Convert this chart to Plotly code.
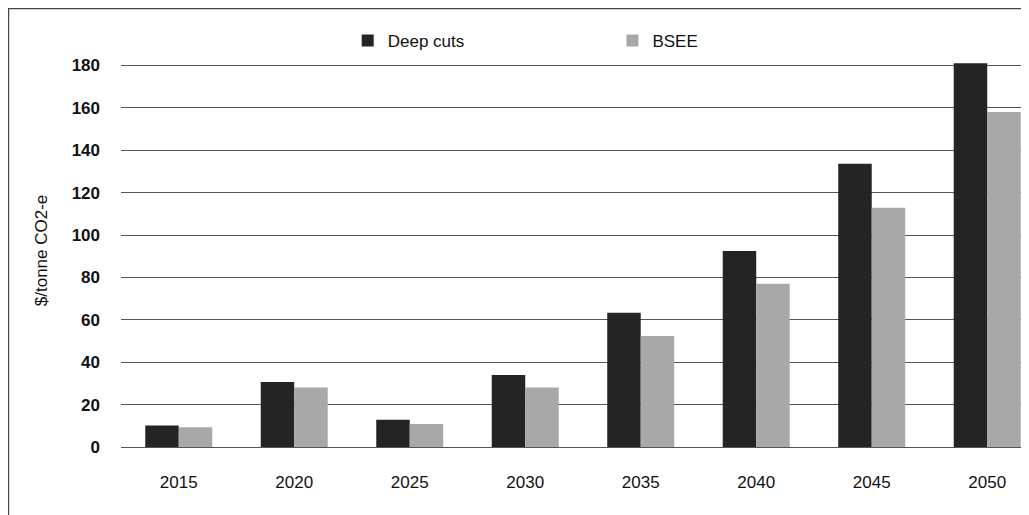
import plotly.graph_objects as go

years = ["2015", "2020", "2025", "2030", "2035", "2040", "2045", "2050"]
deep_cuts = [10.1, 30.7, 12.9, 34.0, 63.3, 92.5, 133.6, 181.0]
bsee = [9.3, 28.1, 10.9, 28.1, 52.3, 77.0, 112.8, 158.0]
y_ticks = [0, 20, 40, 60, 80, 100, 120, 140, 160, 180]
y_title = "$/tonne CO2-e"

FONT = "Liberation Sans, Arial, sans-serif"

fig = go.Figure()
fig.add_trace(go.Bar(x=years, y=deep_cuts, name="Deep cuts",
                     marker=dict(color="#242424", line=dict(width=0)),
                     legend="legend"))
fig.add_trace(go.Bar(x=years, y=bsee, name="BSEE",
                     marker=dict(color="#a8a8a8", line=dict(width=0)),
                     legend="legend2"))

legend_common = dict(orientation="h", yanchor="middle", y=0.9575, xanchor="left",
                     font=dict(family=FONT, size=17, color="#111111"),
                     bgcolor="rgba(0,0,0,0)", borderwidth=0)

fig.update_layout(
    width=1029, height=515,
    margin=dict(l=113, r=0, t=15, b=76, pad=0),
    paper_bgcolor="white", plot_bgcolor="white",
    barmode="group", bargap=0.42, bargroupgap=0.0,
    showlegend=True,
    legend=dict(x=0.2475, **legend_common),
    legend2=dict(x=0.5365, **legend_common),
    xaxis=dict(type="category", range=[-0.5, 7.431], showgrid=False,
               showline=False, zeroline=False, ticks="",
               tickfont=dict(family=FONT, size=17, color="#111111"),
               ticklabelstandoff=23),
    yaxis=dict(range=[0, 200.0], tickvals=y_ticks, showgrid=True,
               gridcolor="#555555", gridwidth=1, zeroline=True,
               zerolinecolor="#555555", zerolinewidth=1, showline=False,
               ticks="", ticklabelstandoff=20,
               tickfont=dict(family=FONT, size=17, color="#111111", weight="bold")),
    annotations=[
        dict(text=y_title, xref="paper", yref="paper", x=-0.0873, y=0.4642,
             xanchor="center", yanchor="middle", textangle=-90, showarrow=False,
             font=dict(family=FONT, size=17, color="#111111")),
    ],
    shapes=[
        dict(type="line", xref="paper", yref="paper", x0=-0.1234, x1=1.0,
             y0=1.0339, y1=1.0339, line=dict(color="#444444", width=1.2)),
        dict(type="line", xref="paper", yref="paper", x0=-0.1227, x1=-0.1227,
             y0=1.0354, y1=-0.2, line=dict(color="#444444", width=1.2)),
    ],
)

fig.write_html("out.html")
